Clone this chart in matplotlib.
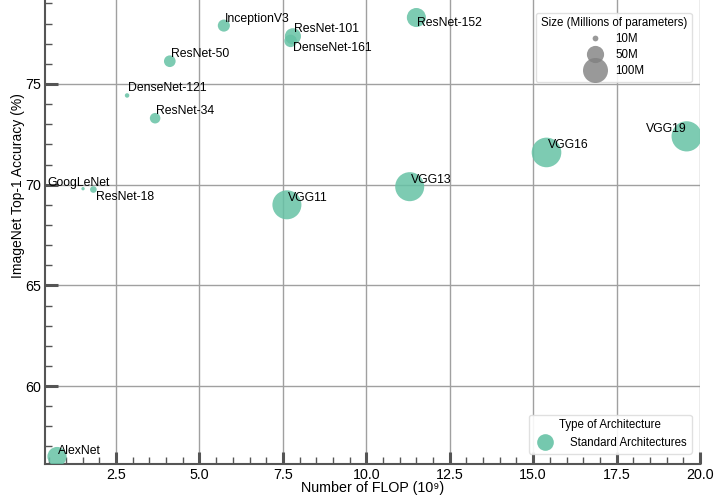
import matplotlib
matplotlib.use("Agg")
import matplotlib.pyplot as plt
from matplotlib.lines import Line2D
from matplotlib.ticker import MultipleLocator
import numpy as np

# values
models = ["AlexNet", "GoogLeNet", "ResNet-18", "DenseNet-121", "ResNet-34",
          "ResNet-50", "InceptionV3", "ResNet-101", "DenseNet-161",
          "ResNet-152", "VGG11", "VGG13", "VGG16", "VGG19"]
flops = [0.73, 1.51, 1.82, 2.83, 3.67, 4.11, 5.73, 7.80, 7.73, 11.5,
         7.62, 11.3, 15.4, 19.6]
acc = [56.5, 69.8, 69.76, 74.43, 73.3, 76.13, 77.9, 77.37, 77.14, 78.3,
       69.0, 69.9, 71.6, 72.4]
params = [61.1, 6.6, 11.7, 8.0, 21.8, 25.6, 27.2, 44.5, 28.7, 60.2,
          132.9, 133.0, 138.4, 143.7]
legend_sizes = [10, 50, 100]

plt.rcParams['font.family'] = ['Liberation Sans', 'DejaVu Sans']

GREEN = "#66c2a5"
SMIN, SMAX = 5.7, 473.0
pmin, pmax = min(params), max(params)


def size_of(p):
    # linear area mapping, like seaborn's size norm
    return SMIN + (p - pmin) / (pmax - pmin) * (SMAX - SMIN)


fig = plt.figure(figsize=(7.15, 4.98), dpi=100)
ax = fig.add_axes([45 / 715, (498 - 464) / 498, 655 / 715, 464 / 498])

ax.scatter(flops, acc, s=[size_of(p) for p in params], color=GREEN,
           alpha=0.85, linewidths=0, zorder=3, clip_on=True)

# label offsets in pixels (ha, va)
offsets = {
    "AlexNet": (1, 0, "left", "bottom"),
    "GoogLeNet": (-36, 0, "left", "bottom"),
    "ResNet-18": (3, -1, "left", "top"),
    "DenseNet-161": (2, -1, "left", "top"),
    "ResNet-152": (1, 1, "left", "top"),
    "VGG19": (0, 1, "right", "bottom"),
}
for name, x, y in zip(models, flops, acc):
    dx, dy, ha, va = offsets.get(name, (1, 1, "left", "bottom"))
    ax.annotate(name, (x, y), xytext=(dx, dy), textcoords="offset pixels",
                ha=ha, va=va, fontsize=8.8, color="black", zorder=4)

ax.set_xlim(0.37, 20.0)
ax.set_ylim(56.13, 79.17)
ax.xaxis.set_major_locator(MultipleLocator(2.5))
ax.xaxis.set_minor_locator(MultipleLocator(0.5))
ax.yaxis.set_major_locator(MultipleLocator(5))
ax.yaxis.set_minor_locator(MultipleLocator(1))

ax.grid(which="major", color="#a0a0a0", linewidth=1.0, zorder=0)
ax.set_axisbelow(True)
for side in ["top", "right"]:
    ax.spines[side].set_visible(False)
for side in ["left", "bottom"]:
    ax.spines[side].set_color("#555555")
    ax.spines[side].set_linewidth(1.5)

ax.tick_params(which="major", direction="in", length=9, width=2.2,
               color="#555555", labelsize=10.3, pad=3)
ax.tick_params(which="minor", direction="in", length=5, width=1.0,
               color="#555555")

ax.set_xlabel("Number of FLOP (10\u2079)", fontsize=10.3)
ax.xaxis.set_label_coords(0.5, -0.037)
ax.set_ylabel("ImageNet Top-1 Accuracy (%)", fontsize=10)
ax.yaxis.set_label_coords(-0.031, 0.60)

# size legend
size_handles = [Line2D([], [], marker="o", linestyle="", color="gray",
                       alpha=0.8, markeredgewidth=0,
                       markersize=np.sqrt(size_of(p)))
                for p in legend_sizes]
leg1 = ax.legend(size_handles, [f"{p}M" for p in legend_sizes],
                 title="Size (Millions of parameters)", loc="upper right",
                 bbox_to_anchor=(0.996, 0.985), fontsize=8.3,
                 title_fontsize=8.3, labelspacing=0.35, handletextpad=0.8,
                 borderpad=0.4, framealpha=0.9, edgecolor="#dddddd")
ax.add_artist(leg1)

type_handle = [Line2D([], [], marker="o", linestyle="", color=GREEN,
                      alpha=0.9, markeredgewidth=0, markersize=12)]
ax.legend(type_handle, ["Standard Architectures"],
          title="Type of Architecture", loc="lower right",
          bbox_to_anchor=(0.996, 0.01), fontsize=8.3, title_fontsize=8.3,
          handletextpad=1.2, borderpad=0.4, framealpha=0.9,
          edgecolor="#dddddd")

fig.savefig("out.png", dpi=100)
